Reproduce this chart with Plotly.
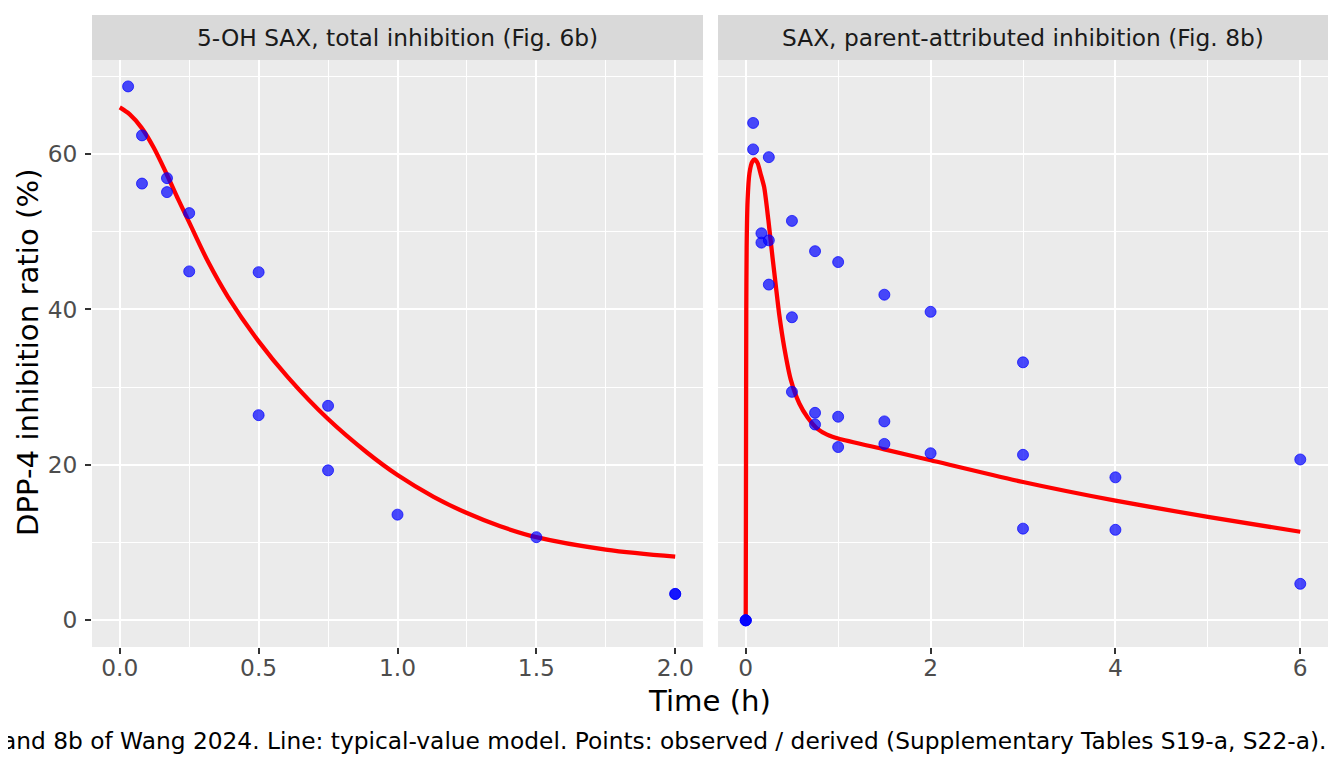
import plotly.graph_objects as go

# ---------------- data ----------------
panel_titles = ["5-OH SAX, total inhibition (Fig. 6b)", "SAX, parent-attributed inhibition (Fig. 8b)"]

obs_t_left = [0.03, 0.08, 0.08, 0.17, 0.17, 0.25, 0.25, 0.5, 0.5, 0.75, 0.75, 1.0, 1.5, 2.0, 2.0]
obs_y_left = [68.7, 62.4, 56.2, 56.9, 55.1, 52.4, 44.9, 44.8, 26.4, 27.6, 19.3, 13.6, 10.7, 3.4, 3.4]

line_t_left = [0.0, 0.036, 0.078, 0.121, 0.169, 0.206, 0.25, 0.32, 0.39, 0.5, 0.605, 0.75,
               0.89, 1.0, 1.13, 1.25, 1.37, 1.5, 1.75, 2.0]
line_y_left = [66.0, 65.1, 63.4, 60.9, 57.4, 54.5, 51.2, 46.0, 41.6, 35.9, 31.3, 25.9,
               21.6, 18.7, 15.9, 13.8, 12.1, 10.7, 9.1, 8.2]

obs_t_right = [0, 0, 0, 0.08, 0.08, 0.25, 0.5, 0.17, 0.17, 0.25, 0.75, 1.0, 0.25, 1.5, 2.0,
               0.5, 3.0, 0.5, 0.75, 1.0, 1.5, 0.75, 1.0, 1.5, 2.0, 3.0, 6.0, 4.0, 3.0, 4.0, 6.0]
obs_y_right = [0, 0, 0, 64.0, 60.6, 59.6, 51.4, 49.8, 48.6, 48.9, 47.5, 46.1, 43.2, 41.9, 39.7,
               39.0, 33.2, 29.4, 26.7, 26.2, 25.6, 25.2, 22.3, 22.7, 21.5, 21.3, 20.7, 18.4, 11.8, 11.65, 4.7]

line_t_right = [0.0, 0.003, 0.006, 0.01, 0.02, 0.04, 0.07, 0.098, 0.13, 0.16, 0.2, 0.245,
                0.29, 0.326, 0.362, 0.417, 0.489, 0.58, 0.67, 0.78, 0.88, 1.0, 1.5, 2.0,
                3.0, 4.0, 5.0, 6.0]
line_y_right = [0.0, 20.0, 40.0, 48.0, 54.0, 57.5, 59.0, 59.3, 58.8, 57.5, 55.7, 51.5,
                46.7, 43.0, 39.4, 35.1, 30.9, 27.9, 26.1, 24.6, 23.9, 23.4, 22.0, 20.6,
                17.8, 15.4, 13.3, 11.4]

x_title = "Time (h)"
y_title = "DPP-4 inhibition ratio (%)"
caption = ("and 8b of Wang 2024. Line: typical-value model. Points: observed / derived "
           "(Supplementary Tables S19-a, S22-a).")

# ---------------- figure ----------------
OFF = 8                      # page body margin in the browser
W, H = 1344 - OFF, 768 - OFF
FONT = "DejaVu Sans"
PT_COL = "rgba(0,0,255,0.7)"
SMALL = 23.3
BIG = 29.2


def px(v):
    return (v - OFF) / W


def py(v):
    return 1 - (v - OFF) / H


fig = go.Figure()
fig.add_trace(go.Scatter(x=line_t_left, y=line_y_left, mode="lines",
                         line=dict(color="#FF0000", width=4.3, shape="spline", smoothing=1.0),
                         xaxis="x", yaxis="y", showlegend=False, hoverinfo="skip"))
fig.add_trace(go.Scatter(x=obs_t_left, y=obs_y_left, mode="markers",
                         marker=dict(color=PT_COL, size=11, line=dict(width=1, color=PT_COL)),
                         xaxis="x", yaxis="y", showlegend=False))
fig.add_trace(go.Scatter(x=line_t_right, y=line_y_right, mode="lines",
                         line=dict(color="#FF0000", width=4.3, shape="spline", smoothing=0.6),
                         xaxis="x2", yaxis="y2", showlegend=False, hoverinfo="skip"))
fig.add_trace(go.Scatter(x=obs_t_right, y=obs_y_right, mode="markers",
                         marker=dict(color=PT_COL, size=11, line=dict(width=1, color=PT_COL)),
                         xaxis="x2", yaxis="y2", showlegend=False))

pl, pr = 92, 703
ql, qr = 718, 1328
ptop, pbot = 60, 647
ydom = [py(pbot), py(ptop)]

tickfont = dict(family=FONT, size=SMALL, color="#4D4D4D")
common_axis = dict(showgrid=True, gridcolor="#FFFFFF", gridwidth=2.4, zeroline=False,
                   showline=False, ticks="outside", ticklen=6, tickwidth=2,
                   tickcolor="#333333", tickfont=tickfont)

fig.update_layout(
    width=W, height=H,
    margin=dict(l=0, r=0, t=0, b=0),
    paper_bgcolor="#FFFFFF",
    plot_bgcolor="#EBEBEB",
    font=dict(family=FONT),
    xaxis=dict(domain=[px(pl), px(pr)], range=[-0.1, 2.1], tickmode="array",
               tickvals=[0, 0.5, 1.0, 1.5, 2.0], ticktext=["0.0", "0.5", "1.0", "1.5", "2.0"],
               minor=dict(tickmode="array", tickvals=[0.25, 0.75, 1.25, 1.75], showgrid=True,
                          gridcolor="#FFFFFF", gridwidth=1.2, ticks=""),
               anchor="y", ticklabelstandoff=-6, **common_axis),
    xaxis2=dict(domain=[px(ql), px(qr)], range=[-0.3, 6.3], tickmode="array",
                tickvals=[0, 2, 4, 6],
                minor=dict(tickmode="array", tickvals=[1, 3, 5], showgrid=True,
                           gridcolor="#FFFFFF", gridwidth=1.2, ticks=""),
                anchor="y2", ticklabelstandoff=-6, **common_axis),
    yaxis=dict(domain=ydom, range=[-3.43, 72.1], tickmode="array", tickvals=[0, 20, 40, 60],
               minor=dict(tickmode="array", tickvals=[10, 30, 50, 70], showgrid=True,
                          gridcolor="#FFFFFF", gridwidth=1.2, ticks=""),
               anchor="x", ticklabelstandoff=3, **common_axis),
    yaxis2=dict(domain=ydom, range=[-3.43, 72.1], tickmode="array", tickvals=[0, 20, 40, 60],
                minor=dict(tickmode="array", tickvals=[10, 30, 50, 70], showgrid=True,
                           gridcolor="#FFFFFF", gridwidth=1.2, ticks=""),
                anchor="x2", showgrid=True, gridcolor="#FFFFFF", gridwidth=2.4,
                zeroline=False, showline=False, ticks="", showticklabels=False),
)

# strips
sy0, sy1 = py(60), py(15)
for (a, b), title in zip([(pl, pr), (ql, qr)], panel_titles):
    fig.add_shape(type="rect", xref="paper", yref="paper", x0=px(a), x1=px(b),
                  y0=sy0, y1=sy1, fillcolor="#D9D9D9", line=dict(width=0), layer="below")
    fig.add_annotation(xref="paper", yref="paper", x=px((a + b) / 2), y=(sy0 + sy1) / 2,
                       text=title, showarrow=False, xanchor="center", yanchor="middle",
                       font=dict(family=FONT, size=SMALL, color="#1A1A1A"))

# axis titles
fig.add_annotation(xref="paper", yref="paper", x=px((pl + qr) / 2), y=py(701),
                   text=x_title, showarrow=False, xanchor="center", yanchor="middle",
                   font=dict(family=FONT, size=BIG, color="#000000"))
fig.add_annotation(xref="paper", yref="paper", x=px(28), y=py(352),
                   text=y_title, showarrow=False, textangle=-90,
                   xanchor="center", yanchor="middle",
                   font=dict(family=FONT, size=BIG, color="#000000"))
# caption (right-aligned like the reference, which runs off the left edge)
fig.add_annotation(xref="paper", yref="paper", x=px(qr), y=py(740),
                   text=caption, showarrow=False, xanchor="right", yanchor="middle",
                   font=dict(family=FONT, size=SMALL, color="#000000"))

fig.write_html("out.html")
